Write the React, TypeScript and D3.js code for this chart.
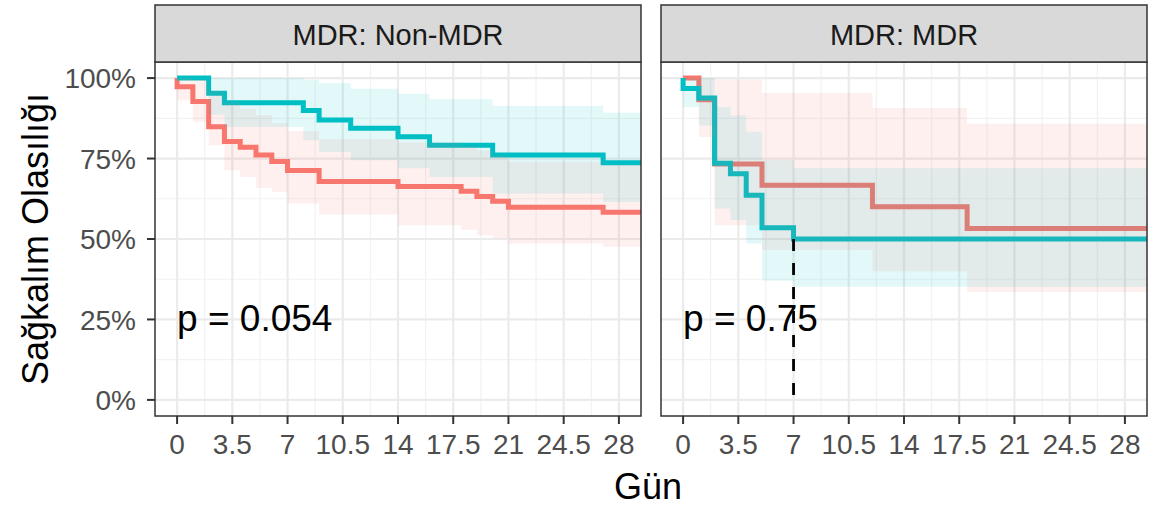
import React from "react";
import * as d3 from "d3";

const W = 1170;
const H = 509;
const RED = "#F8766D";
const TEAL = "#00BFC4";
const FONT = "'Liberation Sans', Arial, sans-serif";

const panelTitles = ["MDR: Non-MDR", "MDR: MDR"];
const pValues = ["p = 0.054", "p = 0.75"];
const xBreaks = [0, 3.5, 7, 10.5, 14, 17.5, 21, 24.5, 28];
const xLabels = ["0", "3.5", "7", "10.5", "14", "17.5", "21", "24.5", "28"];
const yBreaks = [0, 0.25, 0.5, 0.75, 1];
const yLabels = ["0%", "25%", "50%", "75%", "100%"];
const END_TIME = 30;

// Non-MDR panel, red stratum
const nonRedTime = [0, 0, 1, 2, 3, 4, 5, 6, 7, 9, 14, 18, 19, 20, 21, 27];
const nonRedSurv = [1, 0.973, 0.927, 0.849, 0.803, 0.785, 0.761, 0.741, 0.713, 0.679, 0.663, 0.648, 0.632, 0.617, 0.599, 0.583];
const nonRedUpper = [1, 1, 0.995, 0.96, 0.925, 0.905, 0.885, 0.86, 0.835, 0.81, 0.8, 0.79, 0.775, 0.76, 0.74, 0.73];
const nonRedLower = [1, 0.931, 0.864, 0.791, 0.714, 0.693, 0.659, 0.647, 0.61, 0.576, 0.543, 0.528, 0.512, 0.502, 0.486, 0.476];

// Non-MDR panel, teal stratum
const nonTealTime = [0, 2, 3, 8, 9, 11, 14, 16, 20, 27];
const nonTealSurv = [1, 0.953, 0.923, 0.899, 0.87, 0.844, 0.818, 0.791, 0.761, 0.737];
const nonTealUpper = [1, 1, 1, 0.995, 0.985, 0.967, 0.951, 0.934, 0.913, 0.892];
const nonTealLower = [1, 0.887, 0.848, 0.807, 0.77, 0.745, 0.72, 0.693, 0.641, 0.615];

// MDR panel, red stratum
const mdrRedTime = [0, 1, 2, 5, 12, 18];
const mdrRedSurv = [1, 0.933, 0.733, 0.667, 0.6, 0.533];
const mdrRedUpper = [1, 1, 0.996, 0.954, 0.907, 0.858];
const mdrRedLower = [1, 0.817, 0.543, 0.466, 0.4, 0.336];

// MDR panel, teal stratum
const mdrTealTime = [0, 0, 1, 2, 3, 4, 5, 7];
const mdrTealSurv = [1, 0.968, 0.938, 0.735, 0.703, 0.636, 0.535, 0.5];
const mdrTealUpper = [1, 1, 1, 0.91, 0.884, 0.833, 0.745, 0.72];
const mdrTealLower = [1, 0.91, 0.853, 0.595, 0.559, 0.486, 0.37, 0.352];

const medianTime = 7;
const medianSurv = 0.5;

type Pt = { t: number; s: number; lo: number; hi: number };

function toPoints(time: number[], surv: number[], upper: number[], lower: number[]): Pt[] {
  const pts = time.map((t, i) => ({ t, s: surv[i], lo: lower[i], hi: upper[i] }));
  const last = pts[pts.length - 1];
  pts.push({ ...last, t: END_TIME });
  return pts;
}

const curves = [
  { panel: 0, color: RED, pts: toPoints(nonRedTime, nonRedSurv, nonRedUpper, nonRedLower) },
  { panel: 0, color: TEAL, pts: toPoints(nonTealTime, nonTealSurv, nonTealUpper, nonTealLower) },
  { panel: 1, color: RED, pts: toPoints(mdrRedTime, mdrRedSurv, mdrRedUpper, mdrRedLower) },
  { panel: 1, color: TEAL, pts: toPoints(mdrTealTime, mdrTealSurv, mdrTealUpper, mdrTealLower) },
];

const panelLeft = [155, 661];
const panelW = 486;
const top = 62;
const bottom = 416;
const stripTop = 5;

export default function App() {
  const y = d3.scaleLinear().domain([-0.05, 1.05]).range([bottom, top]);
  const xMinor = xBreaks.slice(1).map((b, i) => (b + xBreaks[i]) / 2);
  const yMinor = yBreaks.slice(1).map((b, i) => (b + yBreaks[i]) / 2);

  return (
    <svg width={W} height={H} style={{ position: "absolute", left: 0, top: 0, background: "#fff" }} fontFamily={FONT}>
      <defs>
        {panelLeft.map((pl, i) => (
          <clipPath id={`clip${i}`} key={i}>
            <rect x={pl} y={top} width={panelW} height={bottom - top} />
          </clipPath>
        ))}
      </defs>
      {panelLeft.map((pl, pi) => {
        const x = d3.scaleLinear().domain([-1.4, 29.4]).range([pl, pl + panelW]);
        const line = d3.line<Pt>().x(d => x(d.t)).y(d => y(d.s)).curve(d3.curveStepAfter);
        const area = d3.area<Pt>().x(d => x(d.t)).y0(d => y(d.lo)).y1(d => y(d.hi)).curve(d3.curveStepAfter);
        const pc = curves.filter(c => c.panel === pi);
        return (
          <g key={pi}>
            <rect x={pl} y={top} width={panelW} height={bottom - top} fill="#fff" />
            {/* minor grid */}
            {xMinor.map(v => (
              <line key={"xm" + v} x1={x(v)} x2={x(v)} y1={top} y2={bottom} stroke="#F2F2F2" strokeWidth={1.2} />
            ))}
            {yMinor.map(v => (
              <line key={"ym" + v} x1={pl} x2={pl + panelW} y1={y(v)} y2={y(v)} stroke="#F2F2F2" strokeWidth={1.2} />
            ))}
            {/* major grid */}
            {xBreaks.map(v => (
              <line key={"xM" + v} x1={x(v)} x2={x(v)} y1={top} y2={bottom} stroke="#EBEBEB" strokeWidth={2.2} />
            ))}
            {yBreaks.map(v => (
              <line key={"yM" + v} x1={pl} x2={pl + panelW} y1={y(v)} y2={y(v)} stroke="#EBEBEB" strokeWidth={2.2} />
            ))}
            <g clipPath={`url(#clip${pi})`}>
              {pc.map((c, i) => (
                <path key={"l" + i} d={line(c.pts) || ""} fill="none" stroke={c.color} strokeWidth={5} strokeLinejoin="miter" />
              ))}
              {pc.map((c, i) => (
                <path key={"a" + i} d={area(c.pts) || ""} fill={c.color} fillOpacity={0.11} stroke="none" />
              ))}
              {pi === 1 && (
                <line x1={x(medianTime)} x2={x(medianTime)} y1={y(medianSurv)} y2={y(0)} stroke="#000" strokeWidth={2.8} strokeDasharray="12,12" />
              )}
            </g>
            <text x={x(0)} y={331} fontSize={37} fill="#000">{pValues[pi]}</text>
            <rect x={pl} y={top} width={panelW} height={bottom - top} fill="none" stroke="#333" strokeWidth={1.5} />
            {/* strip */}
            <rect x={pl} y={stripTop} width={panelW} height={top - stripTop} fill="#D9D9D9" stroke="#333" strokeWidth={1.5} />
            <text x={pl + panelW / 2} y={45} fontSize={29} fill="#1A1A1A" textAnchor="middle">{panelTitles[pi]}</text>
            {/* x axis */}
            {xBreaks.map((v, i) => (
              <g key={"xt" + v}>
                <line x1={x(v)} x2={x(v)} y1={bottom} y2={bottom + 8} stroke="#333" strokeWidth={2} />
                <text x={x(v)} y={454} fontSize={28} fill="#4D4D4D" textAnchor="middle">{xLabels[i]}</text>
              </g>
            ))}
            {pi === 0 &&
              yBreaks.map((v, i) => (
                <g key={"yt" + v}>
                  <line x1={pl - 8} x2={pl} y1={y(v)} y2={y(v)} stroke="#333" strokeWidth={2} />
                  <text x={136} y={y(v)} dy="0.36em" fontSize={28} fill="#4D4D4D" textAnchor="end">{yLabels[i]}</text>
                </g>
              ))}
          </g>
        );
      })}
      <text x={648} y={499} fontSize={36} fill="#000" textAnchor="middle">Gün</text>
      <text transform={`translate(48, ${(top + bottom) / 2}) rotate(-90)`} fontSize={36} fill="#000" textAnchor="middle">Sağkalım Olasılığı</text>
    </svg>
  );
}
